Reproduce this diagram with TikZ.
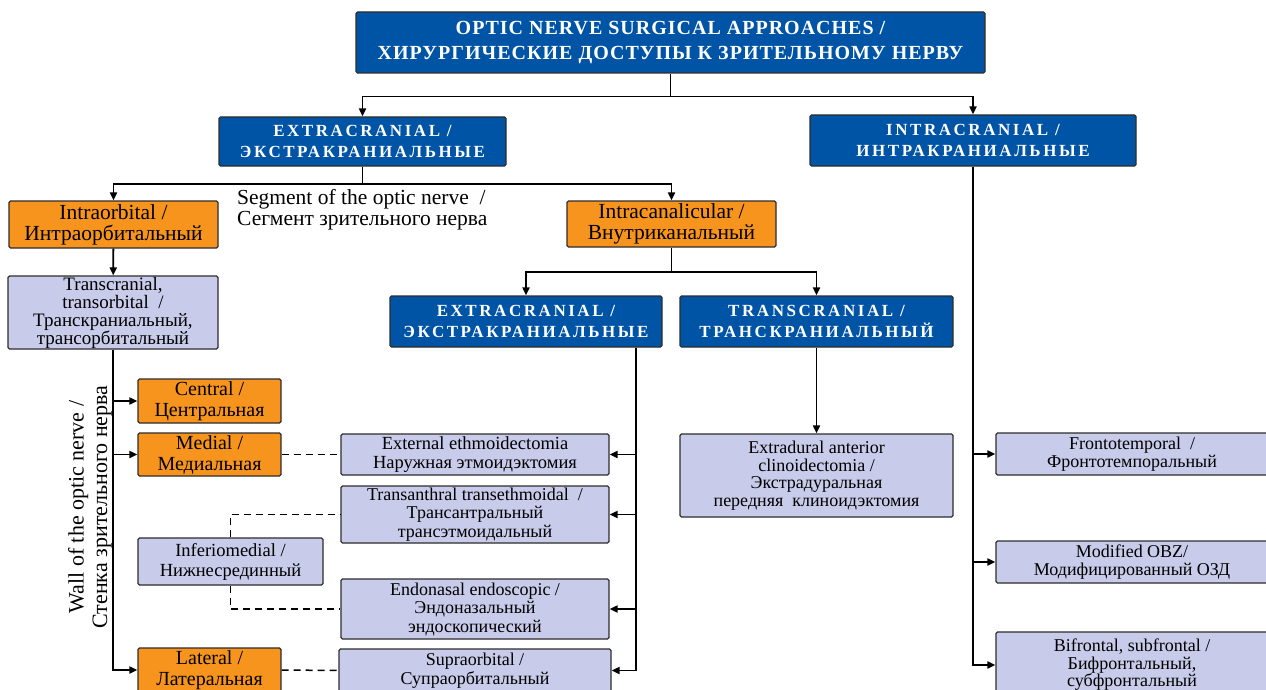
\documentclass[tikz,border=0pt]{standalone}
\usepackage{fontspec}
\setmainfont{Liberation Serif}
\newfontfamily\headfont[LetterSpace=5]{Liberation Serif}
\newfontfamily\subfont[LetterSpace=15]{Liberation Serif}
\usetikzlibrary{arrows.meta}
\definecolor{boxblue}{RGB}{0,84,166}
\definecolor{boxorange}{RGB}{247,148,30}
\definecolor{boxlav}{RGB}{200,203,233}
\definecolor{boxline}{RGB}{45,45,45}

\begin{document}
\begin{tikzpicture}[x=1pt,y=-1pt,
  base/.style={draw=boxline, line width=1.2pt, rounded corners=1.5pt, align=center, inner sep=0pt},
  headbox/.style={base, fill=boxblue, text=white, font=\headfont\bfseries\fontsize{20}{25}\selectfont},
  bluebox/.style={base, fill=boxblue, text=white, font=\subfont\bfseries\fontsize{17}{21}\selectfont},
  orbox/.style={base, fill=boxorange, font=\fontsize{20}{21}\selectfont},
  lavbox/.style={base, fill=boxlav, font=\fontsize{18}{18.5}\selectfont},
  arr/.style={line width=1.8pt, -{Triangle[length=8pt,width=7pt]}},
  conn/.style={line width=1.8pt},
  dashline/.style={line width=1.5pt, dash pattern=on 7pt off 5pt}]
  %\draw[help lines] (0,0) grid (1266,690);
  \useasboundingbox (0,0) rectangle (1266,690);

  % top levels
  \node[headbox, minimum width=629, minimum height=61] (head) at (670.5,42.5) {OPTIC NERVE SURGICAL APPROACHES /\\ХИРУРГИЧЕСКИЕ ДОСТУПЫ К ЗРИТЕЛЬНОМУ НЕРВУ};
  \node[bluebox, minimum width=287, minimum height=49] (extra) at (362.5,141.5) {EXTRACRANIAL /\\ЭКСТРАКРАНИАЛЬНЫЕ};
  \node[bluebox, minimum width=326, minimum height=51] (intra) at (973,140.5) {INTRACRANIAL /\\ИНТРАКРАНИАЛЬНЫЕ};

  % segment of the nerve
  \node[orbox, font=\fontsize{21.5}{21}\selectfont, minimum width=209, minimum height=47] (intraorb) at (113.5,224.5) {Intraorbital /\\Интраорбитальный};
  \node[orbox, font=\fontsize{21.5}{21}\selectfont, minimum width=209, minimum height=46] (intracan) at (671.5,224) {Intracanalicular /\\Внутриканальный};
  \node[anchor=north west, align=left, inner sep=0pt, font=\fontsize{21.5}{21}\selectfont] (seg) at (237,189) {Segment of the optic nerve~~/\\Сегмент зрительного нерва};

  % intraorbital branch
  \node[lavbox, font=\fontsize{19}{18}\selectfont, minimum width=210, minimum height=73] (transorb) at (113,312.5) {Transcranial,\\transorbital~~/\\Транскраниальный,\\трансорбитальный};
  \node[orbox, minimum width=143, minimum height=44] (central) at (209.5,401) {Central /\\Центральная};
  \node[orbox, minimum width=143, minimum height=43] (medial) at (209.5,454.5) {Medial /\\Медиальная};
  \node[lavbox, font=\fontsize{18.5}{20}\selectfont, minimum width=185, minimum height=47] (infmed) at (230.5,561.5) {Inferiomedial /\\Нижнесрединный};
  \node[orbox, minimum width=143, minimum height=44] (lateral) at (209.5,670) {Lateral /\\Латеральная};
  \node[rotate=90, align=center, inner sep=0pt, font=\fontsize{22}{23.5}\selectfont] (wall) at (90,507) {Wall of the optic nerve /\\Стенка зрительного нерва};

  % intracanalicular branch
  \node[bluebox, minimum width=272, minimum height=51] (extra2) at (526,321.5) {EXTRACRANIAL /\\ЭКСТРАКРАНИАЛЬНЫЕ};
  \node[bluebox, minimum width=273, minimum height=51] (transcr) at (816.5,321.5) {TRANSCRANIAL /\\ТРАНСКРАНИАЛЬНЫЙ};
  \node[lavbox, font=\fontsize{18.5}{19}\selectfont, minimum width=268, minimum height=41] (ethm) at (475,454.5) {External ethmoidectomia\\Наружная этмоидэктомия};
  \node[lavbox, minimum width=268, minimum height=57] (transan) at (475,514.5) {Transanthral transethmoidal~~/\\Трансантральный\\трансэтмоидальный};
  \node[lavbox, minimum width=268, minimum height=60] (endo) at (475,609) {Endonasal endoscopic /\\Эндоназальный\\эндоскопический};
  \node[lavbox, minimum width=272, minimum height=43] (supra) at (475,670.5) {Supraorbital /\\Супраорбитальный};
  \node[lavbox, font=\fontsize{18}{17.5}\selectfont, minimum width=273, minimum height=83] (extdur) at (816.5,475.5) {Extradural anterior\\clinoidectomia /\\Экстрадуральная\\передняя~~клиноидэктомия};

  % intracranial branch
  \node[lavbox, minimum width=272, minimum height=42] (fronto) at (1132,454) {Frontotemporal~~/\\Фронтотемпоральный};
  \node[lavbox, minimum width=272, minimum height=42] (obz) at (1132,562) {Modified OBZ/\\Модифицированный ОЗД};
  \node[lavbox, font=\fontsize{18}{17.5}\selectfont, minimum width=272, minimum height=66] (bifront) at (1132,665) {Bifrontal, subfrontal /\\Бифронтальный,\\субфронтальный};

  % connectors
  \draw[conn] (head.south) -- ++(0,23) coordinate (j1);
  \draw[arr] (j1) -| (extra.north);
  \draw[arr] (j1) -| (intra.north);
  \draw[conn] (extra.south) -- ++(0,17) coordinate (j2);
  \draw[arr] (j2) -| (intraorb.north);
  \draw[arr] (j2) -| (intracan.north);
  \draw[arr] (intraorb) -- (transorb);
  \foreach \n in {central,medial,lateral}
    \draw[arr] (transorb.south) |- (\n.west);
  \draw[conn] (intracan.south) -- ++(0,24) coordinate (j3);
  \draw[arr] (j3) -| (extra2.north);
  \draw[arr] (j3) -| (transcr.north);
  \draw[arr] (transcr) -- (extdur);
  \foreach \n in {ethm,transan,endo,supra}
    \draw[arr] ([xshift=-27pt]extra2.south east) |- (\n.east);
  \foreach \n in {fronto,obz,bifront}
    \draw[arr] (intra.south) |- (\n.west);
  \draw[dashline] (medial.east) -- (ethm.west);
  \draw[dashline] (lateral.east) -- (supra.west);
  \draw[dashline] (infmed.north) |- (transan.west);
  \draw[dashline] (infmed.south) |- (endo.west);
\end{tikzpicture}
\end{document}
